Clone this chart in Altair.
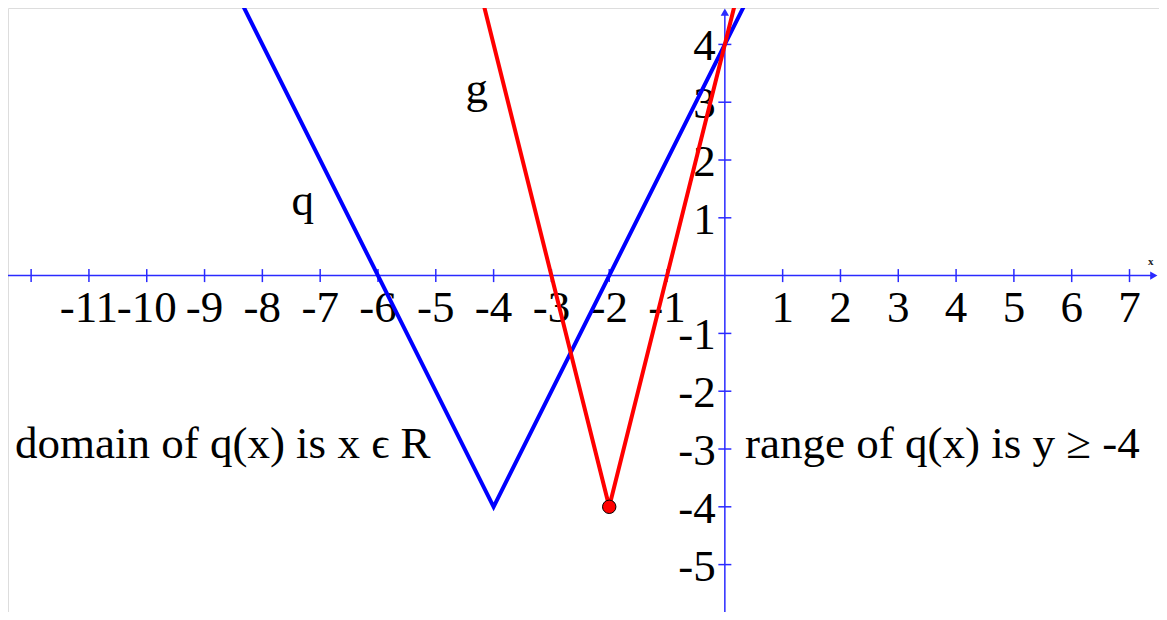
import altair as alt
import pandas as pd

# ---- data ----
x_ticks = [-12, -11, -10, -9, -8, -7, -6, -5, -4, -3, -2, -1, 1, 2, 3, 4, 5, 6, 7]
x_tick_labels = ["", "-11", "-10", "-9", "-8", "-7", "-6", "-5", "-4", "-3", "-2", "-1",
                 "1", "2", "3", "4", "5", "6", "7"]
y_ticks = [-5, -4, -3, -2, -1, 1, 2, 3, 4]
y_tick_labels = ["-5", "-4", "-3", "-2", "-1", "1", "2", "3", "4"]

q_x = [-8.5, -4, 0.5]
q_y = [5, -4, 5]
g_x = [-4.5, -2, 0.5]
g_y = [6, -4, 6]
vertex_x = [-2]
vertex_y = [-4]

name_labels = ["q", "g"]
name_x = [-7.30, -4.29]
name_y = [1.05, 2.98]

notes = ["domain of q(x) is x \u03f5 R", "range of q(x) is y \u2265 -4"]
notes_x = [-12.28, 0.35]
notes_y = [-3.15, -3.15]

X_DOMAIN = [-12.40, 7.51]
Y_DOMAIN = [-5.82, 4.63]
AX_X = [-12.40, 7.42]
AX_Y = [-5.82, 4.56]

FONT = "Liberation Serif"
FS = 45
BLUE = "#0000ff"
AXBLUE = "#2a2aff"
RED = "#ff0000"

xs = alt.Scale(domain=X_DOMAIN, nice=False, zero=False)
ys = alt.Scale(domain=Y_DOMAIN, nice=False, zero=False)


def X(f):
    return alt.X(f, type="quantitative", scale=xs, axis=None)


def Y(f):
    return alt.Y(f, type="quantitative", scale=ys, axis=None)


# axes
xaxis = alt.Chart(pd.DataFrame({"x": [AX_X[0]], "x2": [AX_X[1]], "y": [0]})).mark_rule(
    color=AXBLUE, strokeWidth=1.5).encode(x=X("x"), x2="x2", y=Y("y"))
yaxis = alt.Chart(pd.DataFrame({"y": [AX_Y[0]], "y2": [AX_Y[1]], "x": [0]})).mark_rule(
    color=AXBLUE, strokeWidth=1.5).encode(y=Y("y"), y2="y2", x=X("x"))
xarrow = alt.Chart(pd.DataFrame({"x": [AX_X[1]], "y": [0]})).mark_point(
    shape="triangle-right", filled=True, color=AXBLUE, size=70, opacity=1).encode(x=X("x"), y=Y("y"))
yarrow = alt.Chart(pd.DataFrame({"x": [0], "y": [AX_Y[1]]})).mark_point(
    shape="triangle-up", filled=True, color=AXBLUE, size=70, opacity=1).encode(x=X("x"), y=Y("y"))
xname = alt.Chart(pd.DataFrame({"x": [AX_X[1]], "y": [0], "t": ["x"]})).mark_text(
    font=FONT, fontSize=11, fontWeight="bold", dy=-14, dx=-3, color="#222222").encode(
    x=X("x"), y=Y("y"), text="t:N")

xt_df = pd.DataFrame({"x": x_ticks, "y": [0] * len(x_ticks), "t": x_tick_labels})
yt_df = pd.DataFrame({"y": y_ticks, "x": [0] * len(y_ticks), "t": y_tick_labels})

xtick = alt.Chart(xt_df).mark_tick(orient="vertical", size=13, thickness=1.5, color=AXBLUE,
                                   opacity=1).encode(x=X("x"), y=Y("y"))
ytick = alt.Chart(yt_df).mark_tick(orient="horizontal", size=13, thickness=1.5, color=AXBLUE,
                                   opacity=1).encode(x=X("x"), y=Y("y"))
xlab = alt.Chart(xt_df).mark_text(font=FONT, fontSize=FS, baseline="alphabetic", align="center",
                                  dy=46, color="black").encode(x=X("x"), y=Y("y"), text="t:N")
ylab = alt.Chart(yt_df).mark_text(font=FONT, fontSize=FS, baseline="alphabetic", align="right",
                                  dx=-9, dy=16, color="black").encode(x=X("x"), y=Y("y"), text="t:N")

q_line = alt.Chart(pd.DataFrame({"x": q_x, "y": q_y, "o": list(range(len(q_x)))})).mark_line(
    color=BLUE, strokeWidth=4, clip=True).encode(x=X("x"), y=Y("y"), order="o:Q")
g_line = alt.Chart(pd.DataFrame({"x": g_x, "y": g_y, "o": list(range(len(g_x)))})).mark_line(
    color=RED, strokeWidth=4, clip=True).encode(x=X("x"), y=Y("y"), order="o:Q")
vertex = alt.Chart(pd.DataFrame({"x": vertex_x, "y": vertex_y})).mark_point(
    shape="circle", filled=True, fill=RED, stroke="black", strokeWidth=1, size=180, opacity=1).encode(
    x=X("x"), y=Y("y"))

names = alt.Chart(pd.DataFrame({"x": name_x, "y": name_y, "t": name_labels})).mark_text(
    font=FONT, fontSize=FS, baseline="alphabetic", align="center", color="black").encode(
    x=X("x"), y=Y("y"), text="t:N")
note_txt = alt.Chart(pd.DataFrame({"x": notes_x, "y": notes_y, "t": notes})).mark_text(
    font=FONT, fontSize=FS, baseline="alphabetic", align="left", color="black").encode(
    x=X("x"), y=Y("y"), text="t:N")

chart = alt.layer(
    xaxis, yaxis, xtick, ytick, xarrow, yarrow, xname,
    xlab, ylab, q_line, g_line, vertex, names, note_txt
).properties(
    width=1151, height=604, padding=0,
    autosize=alt.AutoSizeParams(type="none"),
).configure_view(strokeWidth=0, strokeOpacity=0).configure(background="transparent")

chart.save("out.html", embed_options={"renderer": "svg", "actions": False})
